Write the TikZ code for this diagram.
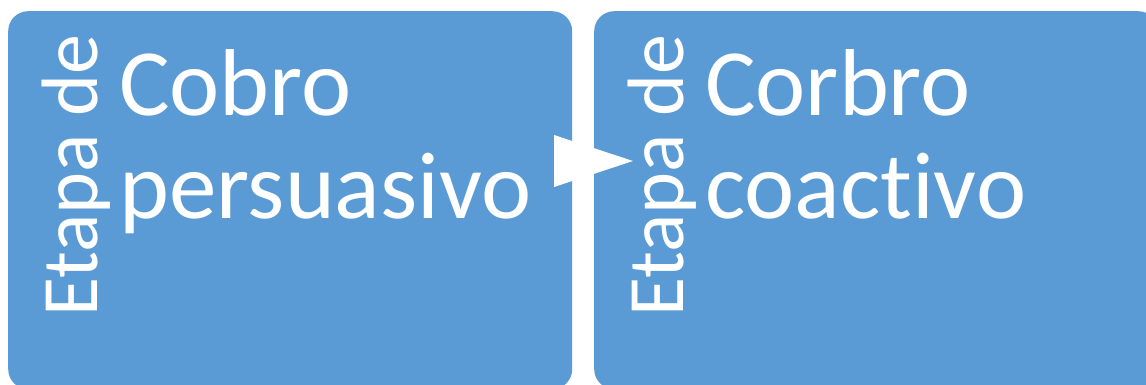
\documentclass[tikz,border=0pt]{standalone}
\usepackage{fontspec}
\setmainfont{Carlito}[Ligatures={NoCommon}]
\definecolor{boxblue}{HTML}{5B9BD5}
\begin{document}
\begin{tikzpicture}[x=1pt,y=-1pt,
  stagebox/.style={fill=boxblue, draw=none, rounded corners=20pt, minimum width=564pt, minimum height=378pt, anchor=north west, inner sep=0pt},
  sidetext/.style={text=white, font=\fontsize{80}{88}\selectfont, rotate=90, anchor=base west, inner sep=0pt},
  maintext/.style={text=white, font=\fontsize{95}{104}\selectfont, anchor=base west, inner sep=0pt},
  arrowhead/.style={fill=white}]
\useasboundingbox (0,0) rectangle (1146,385);
\clip (0,0) rectangle (1146,385);
\node[stagebox] (b1) at (8,11) {};
\node[stagebox] (b2) at (594,11) {};
\node[sidetext] (s1) at (97,317) {Etapa de};
\node[sidetext] (s2) at (683,317) {Etapa de};
\node[maintext] (t1a) at (119,116) {Cobro};
\node[maintext] (t1b) at (119,218) {persuasivo};
\node[maintext] (t2a) at (705,116) {Corbro};
\node[maintext] (t2b) at (705,218) {coactivo};
\fill[arrowhead] (554,135) -- (633,161) -- (554,187) -- cycle;
\end{tikzpicture}
\end{document}
